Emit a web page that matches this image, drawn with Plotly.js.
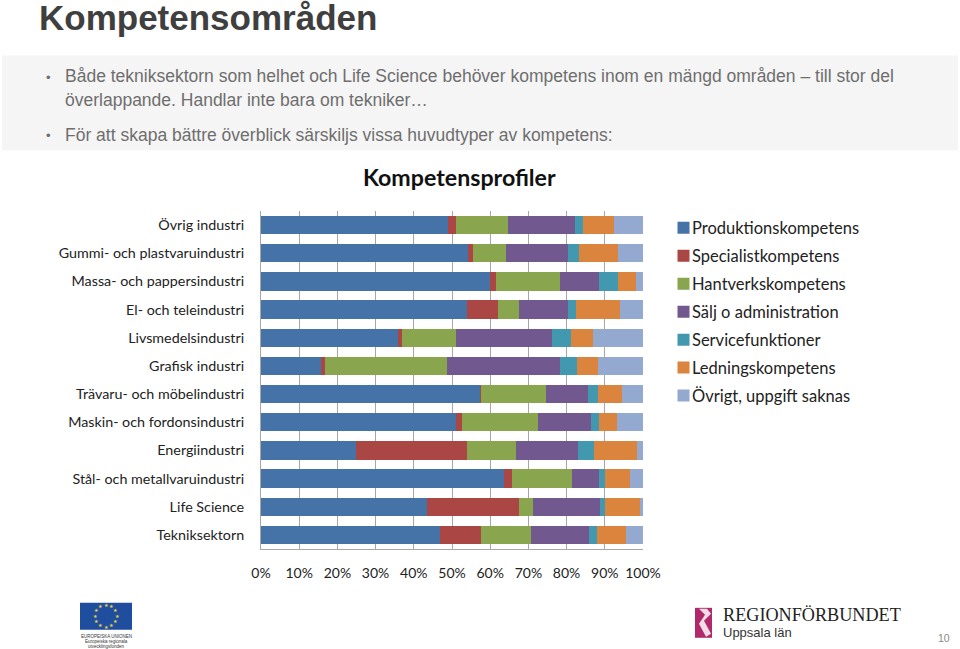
<!DOCTYPE html>
<html><head><meta charset="utf-8">
<script src="https://cdn.plot.ly/plotly-3.0.1.min.js"></script>
<style>html,body{margin:0;padding:0;background:#fff}#c{width:960px;height:649px}</style></head>
<body><div id="c"></div>
<script>
const categories = ["Övrig industri","Gummi- och plastvaruindustri","Massa- och pappersindustri","El- och teleindustri","Livsmedelsindustri","Grafisk industri","Trävaru- och möbelindustri","Maskin- och fordonsindustri","Energiindustri","Stål- och metallvaruindustri","Life Science","Tekniksektorn"];
const produktion   = [48.9,54.2,60.0,54.0,35.9,15.7,57.2,51.1,24.9,63.5,43.5,46.9];
const specialist   = [2.1,1.3,1.6,8.0,1.0,1.0,0.5,1.6,29.1,2.1,24.0,10.8];
const hantverk     = [13.7,8.6,16.6,5.5,14.1,32.1,16.8,19.9,12.8,15.9,3.6,13.1];
const salj         = [17.4,16.2,10.4,12.8,25.3,29.6,11.0,13.8,16.3,7.1,17.7,15.1];
const service      = [2.1,3.0,4.9,2.2,4.9,4.4,2.8,2.2,4.2,1.5,1.3,2.1];
const ledning      = [8.1,10.2,4.6,11.6,5.6,5.5,6.1,4.5,11.0,6.6,9.0,7.6];
const ovrigt       = [7.7,6.5,1.9,5.9,13.2,11.7,5.6,6.9,1.7,3.3,0.9,4.4];
const seriesNames  = ["Produktionskompetens","Specialistkompetens","Hantverkskompetens","Sälj o administration","Servicefunktioner","Ledningskompetens","Övrigt, uppgift saknas"];
const seriesValues = [produktion,specialist,hantverk,salj,service,ledning,ovrigt];
const seriesColors = ["#4573A7","#AA4643","#89A54E","#71588F","#4198AF","#DB843D","#93A9CF"];
const xTicks = [0,10,20,30,40,50,60,70,80,90,100];
const bullets = ["Både tekniksektorn som helhet och Life Science behöver kompetens inom en mängd områden – till stor del","överlappande. Handlar inte bara om tekniker…","För att skapa bättre överblick särskiljs vissa huvudtyper av kompetens:"];

const W=960,H=649,L=261,R=643,T=210.7,B=549.1;
const px=x=>(x-L)/(R-L), py=y=>(B-y)/(B-T);
const labelFont="Lato, 'Open Sans', sans-serif";
const traces=seriesNames.map((n,i)=>({type:'bar',orientation:'h',name:n,y:categories,x:seriesValues[i],
  legendgroup:n,marker:{color:seriesColors[i],line:{width:0}},hoverinfo:'skip'}));

function note(text,x,y,size,color,family,anchor,bold){
  return {text:bold?'<b>'+text+'</b>':text,xref:'paper',yref:'paper',x:px(x),y:py(y),xanchor:anchor||'left',yanchor:'middle',
    showarrow:false,font:{size:size,color:color,family:family},align:anchor||'left'};
}
const sans="'Liberation Sans', Arial, sans-serif";
const annotations=[
  note("Kompetensområden",37,16.5,35,"#3F3F3F",sans,'left',true),
  note("•",44,77,13,"#6E6E6E",sans),
  note(bullets[0],63,76,17.5,"#6E6E6E",sans),
  note(bullets[1],63,100,17.5,"#6E6E6E",sans),
  note("•",44,135,13,"#6E6E6E",sans),
  note(bullets[2],63,135,17.5,"#6E6E6E",sans),
  note("Kompetensprofiler",459,176.5,23.2,"#111111",labelFont,'center',true),
  note("EUROPEISKA UNIONEN",106,637,4.5,"#333",sans,'center'),
  note("Europeiska regionala",106,642,4.5,"#333",sans,'center'),
  note("utvecklingsfonden",106,647,4.5,"#333",sans,'center'),
  note("REGIONFÖRBUNDET",721,615,18.2,"#222222","'Liberation Serif', serif",'left'),
  note("Uppsala län",721,632.5,13,"#333333",sans,'left'),
  note("10",944,638,10.5,"#8A8A8A",sans,'center')
];
const logoPath=[[699,609],[707,609],[711,614],[704,621],[711,634],[706,637],[699,624],[705,615]]
  .map((p,i)=>(i?'L':'M')+px(p[0])+','+py(p[1])).join(' ')+' Z';
const shapes=[
 {type:'rect',xref:'paper',yref:'paper',x0:px(2),x1:px(958),y0:py(55),y1:py(150),fillcolor:'#F5F5F5',line:{width:0},layer:'below'},
 {type:'rect',xref:'paper',yref:'paper',x0:px(80),x1:px(132),y0:py(603),y1:py(630),fillcolor:'#1F4E9E',line:{width:0}},
 {type:'rect',xref:'paper',yref:'paper',x0:px(695),x1:px(712),y0:py(608),y1:py(638),fillcolor:'#B02A6B',line:{width:0}},
 {type:'path',xref:'paper',yref:'paper',path:logoPath,fillcolor:'#F3DCE8',line:{width:0}}
];
const stars=[[106,605.5],[111.5,607],[115.5,611],[117,616.5],[115.5,622],[111.5,626],[106,627.5],[100.5,626],[96.5,622],[95,616.5],[96.5,611],[100.5,607]];
stars.forEach(s=>annotations.push(note("★",s[0],s[1],4.5,"#E8D44A",sans,'center')));
const layout={
 width:W,height:H,paper_bgcolor:'#fff',plot_bgcolor:'#fff',showlegend:true,barmode:'stack',bargap:0.35,
 margin:{l:L,r:W-R,t:T,b:H-B,pad:0},
 font:{family:labelFont,color:'#222'},
 xaxis:{range:[0,100],tickvals:xTicks,ticktext:xTicks.map(v=>v+'%'),tickfont:{size:14,color:'#222',family:labelFont},
   showgrid:true,gridcolor:'#A6A6A6',gridwidth:1,zeroline:false,showline:true,linecolor:'#A6A6A6',linewidth:1,ticks:'',ticklabelstandoff:11,fixedrange:true},
 yaxis:{autorange:'reversed',type:'category',tickfont:{size:14.3,color:'#222',family:labelFont},showgrid:false,showline:true,linecolor:'#A6A6A6',linewidth:1,ticks:'',ticklabelstandoff:13,fixedrange:true},
 legend:{x:px(663.5),y:py(210.3),xanchor:'left',yanchor:'top',traceorder:'grouped',tracegroupgap:3.5,font:{size:16.5,color:'#222',family:labelFont},bgcolor:'rgba(0,0,0,0)'},
 annotations:annotations,shapes:shapes
};
Plotly.newPlot('c',traces,layout,{displayModeBar:false,staticPlot:true}).then(()=>{
  document.querySelectorAll('#c .legendtext').forEach(t=>t.setAttribute('x',28.5));
});
</script></body></html>
